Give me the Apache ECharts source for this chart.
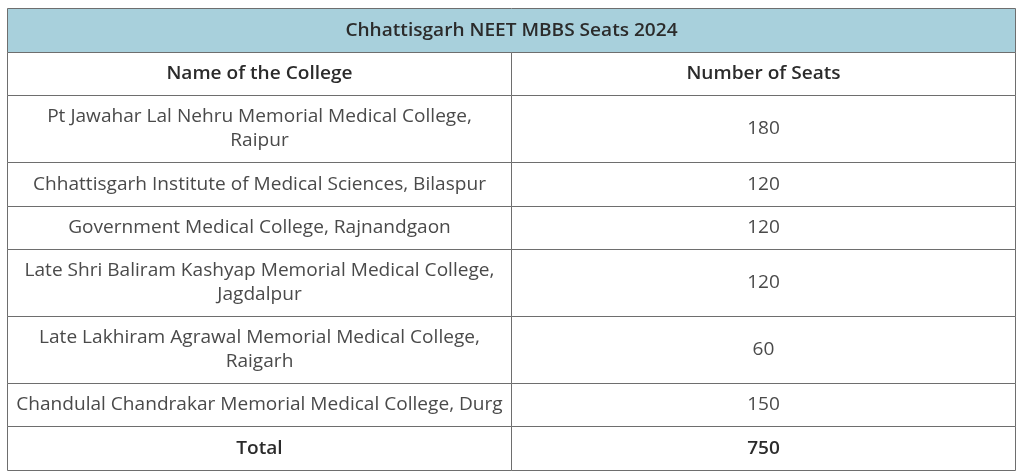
<!DOCTYPE html>
<html>
<head>
<meta charset="utf-8">
<script src="https://cdn.jsdelivr.net/npm/echarts@6/dist/echarts.min.js"></script>
<style>
html,body{margin:0;padding:0;background:#fff;}
#chart{width:1024px;height:476px;}
</style>
</head>
<body>
<div id="chart"></div>
<script>
const tableTitle = 'Chhattisgarh NEET MBBS Seats 2024';
const headers = ['Name of the College', 'Number of Seats'];
const colleges = [
  'Pt Jawahar Lal Nehru Memorial Medical College,\nRaipur',
  'Chhattisgarh Institute of Medical Sciences, Bilaspur',
  'Government Medical College, Rajnandgaon',
  'Late Shri Baliram Kashyap Memorial Medical College,\nJagdalpur',
  'Late Lakhiram Agrawal Memorial Medical College,\nRaigarh',
  'Chandulal Chandrakar Memorial Medical College, Durg'
];
const seats = [180, 120, 120, 120, 60, 150];
const totalLabel = 'Total';
const totalSeats = 750;

const FONT = '"Open Sans", sans-serif';
const rowUnit = function (txt) { return txt.indexOf('\n') >= 0 ? 1.54 : 1; };

// build cells: [x0, x1, y0, y1] + meta
const cells = [];
let y = 0;
function addRow(h, parts) {
  parts.forEach(function (p) {
    cells.push({ value: [p.x0, p.x1, y, y + h], text: p.text, kind: p.kind });
  });
  y += h;
}
addRow(1, [{ x0: 0, x1: 2, text: tableTitle, kind: 'title' }]);
addRow(1, [{ x0: 0, x1: 1, text: headers[0], kind: 'head' }, { x0: 1, x1: 2, text: headers[1], kind: 'head' }]);
colleges.forEach(function (c, i) {
  addRow(rowUnit(c), [{ x0: 0, x1: 1, text: c, kind: 'body' }, { x0: 1, x1: 2, text: String(seats[i]), kind: 'body' }]);
});
addRow(1, [{ x0: 0, x1: 1, text: totalLabel, kind: 'head' }, { x0: 1, x1: 2, text: String(totalSeats), kind: 'head' }]);
const totalUnits = y;

const chart = echarts.init(document.getElementById('chart'), null, { renderer: 'canvas' });
chart.setOption({
  animation: false,
  backgroundColor: '#ffffff',
  grid: { left: 7, right: 9, top: 8, bottom: 6 },
  xAxis: { type: 'value', min: 0, max: 2, show: false },
  yAxis: { type: 'value', min: 0, max: totalUnits, inverse: true, show: false },
  series: [{
    type: 'custom',
    encode: { x: [0, 1], y: [2, 3] },
    data: cells.map(function (c) { return c.value; }),
    renderItem: function (params, api) {
      const cell = cells[params.dataIndex];
      const p0 = api.coord([api.value(0), api.value(2)]);
      const p1 = api.coord([api.value(1), api.value(3)]);
      const x0 = Math.round(p0[0]) + 0.5, x1 = Math.round(p1[0]) + 0.5;
      const y0 = Math.round(p0[1]) + 0.5, y1 = Math.round(p1[1]) + 0.5;
      const isTitle = cell.kind === 'title';
      const bold = cell.kind !== 'body';
      return {
        type: 'group',
        children: [{
          type: 'rect',
          shape: { x: x0, y: y0, width: x1 - x0, height: y1 - y0 },
          style: { fill: isTitle ? '#a8d0dc' : '#ffffff', stroke: '#6e6e6e', lineWidth: 1 }
        }, {
          type: 'text',
          x: (x0 + x1) / 2,
          y: (y0 + y1) / 2,
          scaleX: 1.06,
          style: {
            text: cell.text,
            align: 'center',
            verticalAlign: 'middle',
            font: (bold ? '600 ' : '400 ') + '18px ' + FONT,
            lineHeight: 24,
            fill: bold ? '#2b2b2b' : '#4a4a4a'
          }
        }]
      };
    }
  }]
});
</script>
</body>
</html>
